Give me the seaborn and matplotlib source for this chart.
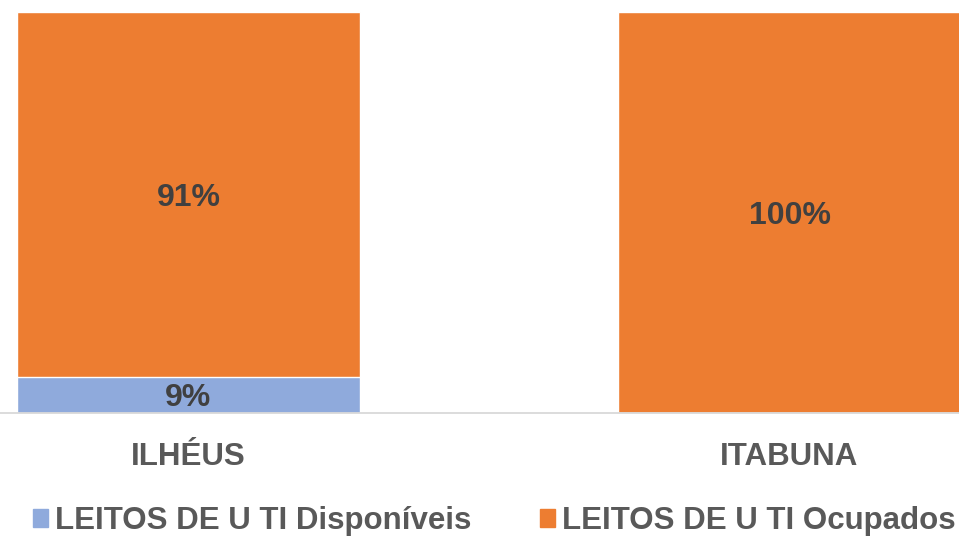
import matplotlib
matplotlib.use('Agg')
import pandas as pd
import matplotlib.pyplot as plt
import seaborn as sns
from matplotlib.patches import Patch

# Data
cidades = ['ILHÉUS', 'ITABUNA']
disponiveis = [0.09, 0.00]
ocupados = [0.91, 1.00]
serie_nomes = ['LEITOS DE U TI Disponíveis', 'LEITOS DE U TI Ocupados']

azul = '#8FAADC'
laranja = '#ED7D31'
cinza = '#595959'

df = pd.DataFrame({'Cidade': cidades, 'Disponiveis': disponiveis, 'Ocupados': ocupados})
df['Total'] = df['Disponiveis'] + df['Ocupados']

sns.set_style('white')
plt.rcParams['font.family'] = ['Liberation Sans', 'DejaVu Sans']

fig = plt.figure(figsize=(9.59, 5.38), dpi=100)
ax = fig.add_axes([0, 125 / 538, 1, 401 / 538])

# stacked: total in orange, available on the bottom in blue
sns.barplot(data=df, x='Cidade', y='Total', color=laranja, width=0.57, ax=ax, saturation=1)
sns.barplot(data=df, x='Cidade', y='Disponiveis', color=azul, width=0.57, ax=ax, saturation=1)

ax.set_xlim(-0.3136, 1.282)
ax.set_ylim(0, 1)
ax.set_xlabel('')
ax.set_ylabel('')
ax.set_yticks([])
for s in ['top', 'left', 'right']:
    ax.spines[s].set_visible(False)
ax.spines['bottom'].set_color('#D9D9D9')
ax.spines['bottom'].set_linewidth(1.3)
ax.tick_params(axis='x', length=0, pad=37.4)
for lab in ax.get_xticklabels():
    lab.set_fontweight('bold')
    lab.set_fontsize(22.5)
    lab.set_color(cinza)
    lab.set_verticalalignment('baseline')

# percent labels centred in each segment
for i in range(len(cidades)):
    d = df['Disponiveis'][i]
    o = df['Ocupados'][i]
    if d > 0:
        ax.text(i, d / 2, f'{d:.0%}', ha='center', va='center_baseline', fontsize=23,
                fontweight='bold', color='#404040')
    if o > 0:
        ax.text(i, d + o / 2, f'{o:.0%}', ha='center', va='center_baseline', fontsize=23,
                fontweight='bold', color='#404040')

handles = [Patch(color=azul), Patch(color=laranja)]
fig.legend(handles, serie_nomes, loc='center', bbox_to_anchor=(0.515, 1 - 521 / 538),
           ncol=2, frameon=False, handlelength=0.48, handleheight=0.48, handletextpad=0.22,
           columnspacing=2.2, borderpad=0, prop={'weight': 'bold', 'size': 22.5},
           labelcolor=cinza)

plt.savefig('out.png', dpi=100)
